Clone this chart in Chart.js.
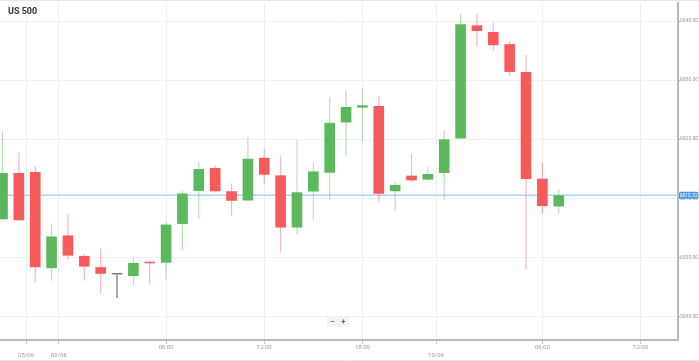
<!DOCTYPE html>
<html>
<head>
<meta charset="utf-8">
<script src="https://cdn.jsdelivr.net/npm/chart.js@4.4.1/dist/chart.umd.min.js"></script>
<style>
  html, body { margin: 0; padding: 0; background: #fff; }
  #wrap { position: relative; width: 699px; height: 361px; overflow: hidden; }
  #title { position: absolute; left: 8px; top: 7px; font: bold 9px Roboto, sans-serif; line-height: 9px; color: #333; }
  #zoomBox { position: absolute; left: 327px; top: 317px; width: 22px; height: 9px; background: #f3f3f3;
             border-radius: 2px; box-shadow: 0 0 1px rgba(0,0,0,0.15); font: bold 8px Roboto, sans-serif;
             line-height: 9px; color: #666; display: flex; justify-content: space-around; }
</style>
</head>
<body>
<div id="wrap">
  <canvas id="c" width="699" height="361"></canvas>
  <div id="title">US 500</div>
  <div id="zoomBox"><span>−</span><span>+</span></div>
</div>
<script>
// ---- Data (hourly US 500 candles) ----
const opens  = [6006.44, 6014.28, 6014.45, 5998.17, 6003.71, 6000.24, 5998.34, 5997.10, 5996.83, 5999.18,
                5999.11, 6005.66, 6011.26, 6015.12, 6011.19, 6009.63, 6016.85, 6013.88, 6005.05, 6011.14,
                6014.33, 6022.84, 6025.35, 6025.62, 6011.19, 6013.83, 6013.16, 6014.28, 6020.12, 6039.28,
                6038.15, 6036.09, 6031.39, 6013.32, 6008.62];
const highs  = [6021.26, 6017.80, 6015.39, 6005.72, 6007.28, 6000.57, 6001.41, 5997.10, 6000.19, 5999.45,
                6005.89, 6011.31, 6016.23, 6015.50, 6012.48, 6020.32, 6018.31, 6017.06, 6019.87, 6016.06,
                6027.03, 6028.26, 6028.54, 6027.30, 6012.77, 6017.52, 6015.29, 6021.54, 6041.23, 6041.23,
                6039.72, 6036.53, 6034.25, 6015.96, 6011.48];
const lows   = [6006.40, 6006.20, 5995.71, 5996.09, 5999.61, 5996.09, 5993.86, 5993.14, 5995.25, 5995.42,
                5996.21, 6001.24, 6006.56, 6010.92, 6007.11, 6009.50, 6012.32, 6000.86, 6003.93, 6006.36,
                6009.68, 6017.06, 6019.58, 6009.35, 6007.84, 6012.77, 6013.00, 6009.80, 6019.98, 6035.69,
                6034.97, 6030.72, 5997.89, 6007.40, 6007.45];
const closes = [6014.28, 6006.28, 5998.34, 6003.54, 6000.29, 5998.44, 5997.22, 5997.10, 5999.06, 5999.01,
                6005.55, 6010.81, 6014.95, 6011.19, 6009.58, 6016.68, 6013.99, 6005.05, 6011.02, 6014.55,
                6022.77, 6025.45, 6025.74, 6010.76, 6012.27, 6013.04, 6014.11, 6019.98, 6039.45, 6038.32,
                6035.92, 6031.39, 6013.27, 6008.68, 6010.52];

// x-axis tick positions (in candle slots) and labels
const xTickSlots  = [1.44, 3.45, 10, 16, 22, 26.5, 33, 39];
const xTickLabels = ['08/06', '09/06', '06:00', '12:00', '18:00', '10/06', '06:00', '12:00'];
const xTickIsDate = [true, true, false, false, false, true, false, false];
// y-axis tick values
const yTicks = [5990, 6000, 6010, 6020, 6030, 6040];
const lastPrice = closes[closes.length - 1];

// ---- colours ----
const UP = '#5cb85c', DOWN = '#f75a5a', FLAT = '#7a7a7a';
const UP_W = 'rgba(92,184,92,0.45)', DOWN_W = 'rgba(247,90,90,0.45)', FLAT_W = '#6a6a6a';

const slots = opens.map((_, i) => i);
const bodyData = slots.map(i => ({ x: i, y: [opens[i], closes[i]] }));
const wickData = slots.map(i => ({ x: i, y: [lows[i], highs[i]] }));
const bodyColors = slots.map(i => closes[i] > opens[i] ? UP : (closes[i] < opens[i] ? DOWN : FLAT));
const wickColors = slots.map(i => closes[i] > opens[i] ? UP_W : (closes[i] < opens[i] ? DOWN_W : FLAT_W));

const extras = {
  id: 'extras',
  beforeDatasetsDraw(chart) {
    const { ctx, chartArea } = chart;
    const y = chart.scales.y.getPixelForValue(lastPrice);
    ctx.save();
    ctx.strokeStyle = '#aad6f8';
    ctx.lineWidth = 1.5;
    ctx.beginPath();
    ctx.moveTo(chartArea.left, y);
    ctx.lineTo(chartArea.right, y);
    ctx.stroke();
    ctx.restore();
  },
  afterDraw(chart) {
    const { ctx, chartArea } = chart;
    const y = chart.scales.y.getPixelForValue(lastPrice);
    ctx.save();
    // frame lines
    ctx.strokeStyle = '#e6e6e6';
    ctx.lineWidth = 1;
    ctx.beginPath();
    ctx.moveTo(0, 360.5); ctx.lineTo(699, 360.5);
    ctx.moveTo(0, 0.5); ctx.lineTo(699, 0.5);
    ctx.stroke();
    // price label
    const x0 = chartArea.right + 1, w = 19.5, h = 7;
    ctx.fillStyle = '#3c9cf0';
    ctx.beginPath();
    if (ctx.roundRect) ctx.roundRect(x0, y - h / 2, w, h, 1.5); else ctx.rect(x0, y - h / 2, w, h);
    ctx.fill();
    ctx.fillStyle = '#ffffff';
    ctx.font = '5px Roboto, sans-serif';
    ctx.textAlign = 'center';
    ctx.textBaseline = 'middle';
    ctx.fillText(lastPrice.toFixed(2), x0 + w / 2, y + 0.3);
    ctx.restore();
  }
};

Chart.defaults.font.family = 'Roboto, sans-serif';

new Chart(document.getElementById('c'), {
  type: 'bar',
  data: {
    datasets: [
      { label: 'wick', data: wickData, backgroundColor: wickColors, grouped: false,
        categoryPercentage: 1, barPercentage: 0.07, order: 2, borderWidth: 0 },
      { label: 'body', data: bodyData, backgroundColor: bodyColors, grouped: false,
        categoryPercentage: 1, barPercentage: 0.65, order: 1, borderWidth: 0, minBarLength: 1.5 }
    ]
  },
  options: {
    responsive: false,
    animation: false,
    devicePixelRatio: 1,
    layout: { padding: 0 },
    plugins: { legend: { display: false }, tooltip: { enabled: false } },
    events: [],
    scales: {
      x: {
        type: 'linear',
        min: -0.153,
        max: 41.29,
        offset: false,
        afterFit(s) { s.height = 21; },
        afterBuildTicks(s) { s.ticks = xTickSlots.map(v => ({ value: v })); },
        grid: { color: '#eeeeee', offset: false, tickLength: 4, tickColor: '#c8c8c8', lineWidth: 1 },
        border: { color: '#b8b8b8', width: 2 },
        ticks: {
          autoSkip: false, maxRotation: 0, minRotation: 0, padding: 0,
          color: '#9a9a9a', font: { size: 6, lineHeight: 1.25 },
          callback(v) {
            const i = xTickSlots.indexOf(v);
            if (i < 0) return '';
            return xTickIsDate[i] ? ['', xTickLabels[i]] : xTickLabels[i];
          }
        }
      },
      y: {
        position: 'right',
        min: 5986.01,
        max: 6043.06,
        afterFit(s) { s.width = 21; },
        afterBuildTicks(s) { s.ticks = yTicks.map(v => ({ value: v })); },
        grid: { color: '#f1f1f1', tickLength: 2, tickColor: '#aaaaaa' },
        border: { color: '#b8b8b8', width: 2 },
        ticks: {
          padding: 0, color: '#999999', font: { size: 5 },
          callback(v) { return Number(v).toFixed(2); }
        }
      }
    }
  },
  plugins: [extras]
});
</script>
</body>
</html>
